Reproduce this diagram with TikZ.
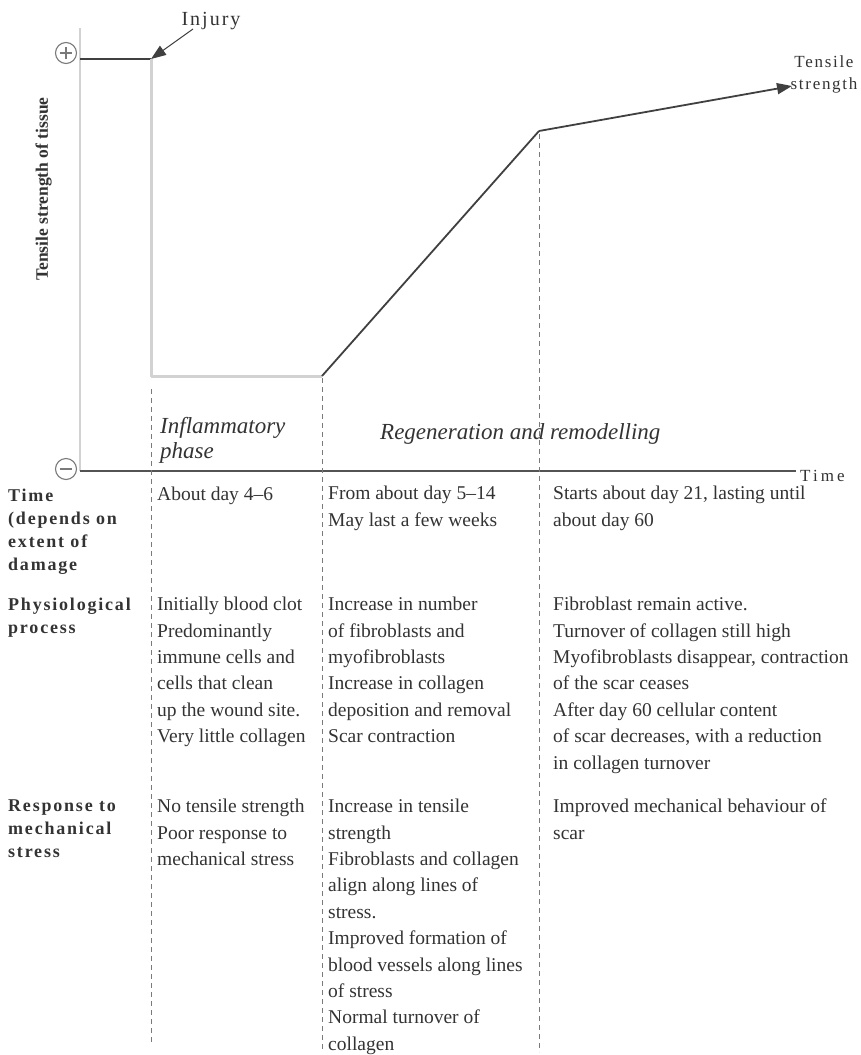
\documentclass[tikz,border=0pt]{standalone}
\usepackage{fontspec}
\setmainfont{Liberation Serif}
\newfontfamily\spacedfont[LetterSpace=10]{Liberation Serif}
\newfontfamily\widefont[LetterSpace=18]{Liberation Serif}
\usetikzlibrary{arrows.meta}
\definecolor{ink}{HTML}{333333}
\definecolor{curve}{HTML}{404040}
\definecolor{pale}{HTML}{D2D2D2}
\definecolor{guide}{HTML}{7A7A7A}
\begin{document}
\begin{tikzpicture}[x=1pt,y=-1pt,
  body/.style={anchor=north west,inner sep=0pt,align=left,text=ink,
    font=\fontsize{19.5}{26.4}\selectfont,
    execute at begin node={\rule{0pt}{14pt}}},
  rowlabel/.style={anchor=north west,inner sep=0pt,align=left,text=ink,
    font=\spacedfont\bfseries\fontsize{18}{22.8}\selectfont,
    execute at begin node={\rule{0pt}{13pt}}},
  phase/.style={anchor=north west,inner sep=0pt,align=left,text=ink,
    font=\itshape\fontsize{23}{25.5}\selectfont,
    execute at begin node={\rule{0pt}{16pt}}},
  darkline/.style={draw=curve,line width=1.8pt},
  paleline/.style={draw=pale,line width=3pt},
  guideline/.style={draw=guide,line width=0.9pt,dash pattern=on 5pt off 4pt},
  sign/.style={circle,draw=guide,line width=1.1pt,minimum size=21pt,inner sep=0pt},
  tip/.style={-{Triangle[length=15pt,width=11pt]}}
]
\useasboundingbox (0,0) rectangle (861,1055);

% --- graph frame ---
\coordinate (ytop) at (80,28);
\coordinate (origin) at (80,471);
\coordinate (xend) at (796,471);
\draw[paleline,line width=2.5pt] (ytop) -- (origin);
\draw[draw=curve!90,line width=2pt] (origin) -- (xend);

\node[sign] (plus) at (66,53) {};
\draw[guide,line width=1.1pt] ([xshift=-6pt]plus.center) -- ([xshift=6pt]plus.center)
  ([yshift=-6pt]plus.center) -- ([yshift=6pt]plus.center);
\node[sign] (minus) at (66,469) {};
\draw[guide,line width=1.1pt] ([xshift=-6pt]minus.center) -- ([xshift=6pt]minus.center);

\node[anchor=south,rotate=90,inner sep=0pt,text=ink,
  font=\bfseries\fontsize{17.5}{19}\selectfont] (ylabel) at (52,189) {Tensile strength of tissue};

\node[anchor=base west,inner sep=0pt,text=ink,font=\widefont\fontsize{17}{18}\selectfont]
  (timelabel) at (800,481) {Time};

% --- tensile strength curve ---
\coordinate (start) at (80,59);
\coordinate (inj) at (151,59);
\coordinate (drop) at (151,376);
\coordinate (lowend) at (322,376);
\coordinate (peak) at (539,131);
\coordinate (arrowtip) at (792,86);
\draw[darkline] (start) -- (inj);
\draw[paleline,line join=round] (inj) -- (drop) -- (lowend);
\draw[darkline] (lowend) -- (peak);
\draw[darkline,tip] (peak) -- (arrowtip);

\node[anchor=north,inner sep=0pt,align=center,text=ink,
  font=\spacedfont\fontsize{17}{22}\selectfont,
  execute at begin node={\rule{0pt}{12pt}}] (tslabel) at (824,56) {Tensile\\strength};

\node[anchor=base,inner sep=0pt,text=ink,font=\spacedfont\fontsize{20}{22}\selectfont]
  (injury) at (211,25) {Injury};
\coordinate (injtail) at (193,29);
\draw[curve,line width=1pt,tip] (injtail) -- (inj);

% --- phase boundaries ---
\coordinate (g1a) at (151,389); \coordinate (g1b) at (151,1042);
\coordinate (g2a) at (322,378); \coordinate (g2b) at (322,1052);
\coordinate (g3a) at (539,134); \coordinate (g3b) at (539,1052);
\draw[guideline] (g1a) -- (g1b);
\draw[guideline] (g2a) -- (g2b);
\draw[guideline] (g3a) -- (g3b);

\node[phase] (inflam) at (160,417) {Inflammatory\\phase};
\node[phase] (regen) at (380,423) {Regeneration and remodelling};

% --- row headings ---
\node[rowlabel] (hTime) at (8,489) {Time\\(depends on\\extent of\\damage};
\node[rowlabel] (hPhys) at (8,598) {Physiological\\process};
\node[rowlabel] (hResp) at (8,800) {Response to\\mechanical\\stress};

% --- time row ---
\node[body] (t1) at (157,486) {About day 4--6};
\node[body] (t2) at (328,486) {From about day 5--14\\May last a few weeks};
\node[body] (t3) at (553,486) {Starts about day 21, lasting until\\about day 60};

% --- physiological process row ---
\node[body] (p1) at (157,597) {Initially blood clot\\Predominantly\\immune cells and\\cells that clean\\up the wound site.\\Very little collagen};
\node[body] (p2) at (328,597) {Increase in number\\of fibroblasts and\\myofibroblasts\\Increase in collagen\\deposition and removal\\Scar contraction};
\node[body] (p3) at (553,597) {Fibroblast remain active.\\Turnover of collagen still high\\Myofibroblasts disappear, contraction\\of the scar ceases\\After day 60 cellular content\\of scar decreases, with a reduction\\in collagen turnover};

% --- mechanical response row ---
\node[body] (r1) at (157,799) {No tensile strength\\Poor response to\\mechanical stress};
\node[body] (r2) at (328,799) {Increase in tensile\\strength\\Fibroblasts and collagen\\align along lines of\\stress.\\Improved formation of\\blood vessels along lines\\of stress\\Normal turnover of\\collagen};
\node[body] (r3) at (553,799) {Improved mechanical behaviour of\\scar};
\end{tikzpicture}
\end{document}
